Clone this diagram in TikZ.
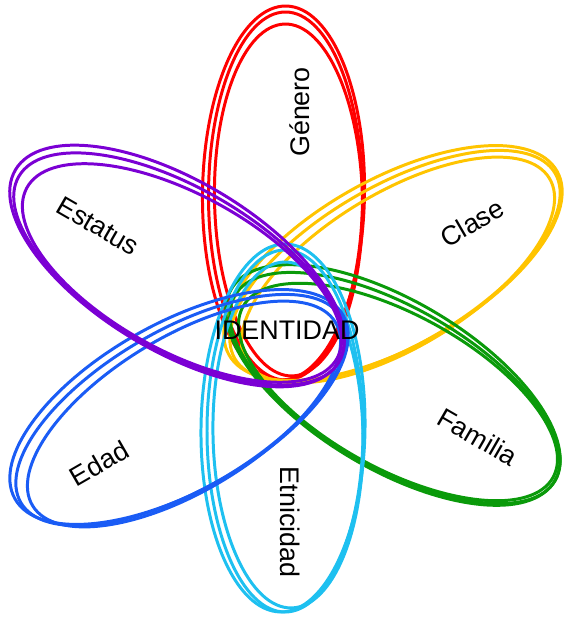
\documentclass[tikz,border=0pt]{standalone}
\usepackage{fontspec}
\setmainfont{Liberation Sans}
\usetikzlibrary{positioning}
\definecolor{IdRed}{HTML}{FF0000}
\definecolor{IdGold}{HTML}{FFC400}
\definecolor{IdGreen}{HTML}{0A9A0A}
\definecolor{IdCyan}{HTML}{1EC0F0}
\definecolor{IdBlue}{HTML}{1A5CF5}
\definecolor{IdPurple}{HTML}{7B00D4}

\begin{document}
\begin{tikzpicture}[x=0.02cm, y=0.02cm, line join=round,
  petal/.style={line width=1.7pt},
  lbl/.style={font=\fontsize{15.3}{18}\selectfont, inner sep=0pt}]
\useasboundingbox (0,0) rectangle (565,622);
% six petals, each traced three times
\foreach \col/\cx/\cy/\ang/\ra/\rb in {IdRed/285.5/426/90/184/77, IdGold/395/356/30/185/80, IdGreen/395/234/-30/185/80, IdCyan/285/191/90/181/78, IdBlue/181/212/30/185/80, IdPurple/179/353/-30/185/81}{
  \foreach \dx/\dy/\da/\db/\dr in {0/0/0/0/0, 3/-4/-8/-3/1.2, -2/3/3/4/-0.8}{
    \draw[petal, \col, shift={(\cx+\dx,\cy+\dy)}, rotate=\ang+\dr] (0,0) ellipse [x radius=\ra+\da, y radius=\rb+\db];
  }
}
\node[lbl, rotate=90] (genero) at (300,510) {Género};
\node[lbl, rotate=30] (clase) at (472,399) {Clase};
\node[lbl, rotate=-30] (familia) at (478,185) {Familia};
\node[lbl, rotate=-90] (etnicidad) at (290,100) {Etnicidad};
\node[lbl, rotate=30] (edad) at (99,159) {Edad};
\node[lbl, rotate=-30] (estatus) at (98,396) {Estatus};
\node[lbl] (identidad) at (287,292) {IDENTIDAD};
\end{tikzpicture}
\end{document}
